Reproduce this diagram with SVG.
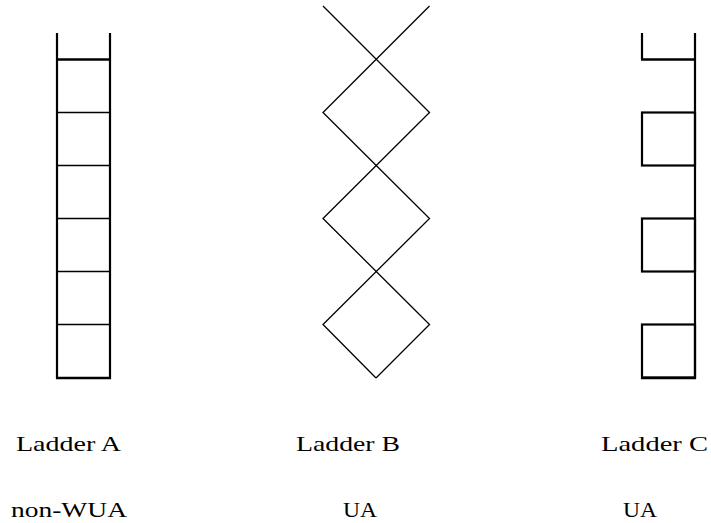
<svg xmlns="http://www.w3.org/2000/svg" width="711" height="523" viewBox="0 0 711 523">
<style>
.rail{stroke:#000;stroke-width:2.2;fill:none}
.rung{stroke:#000;stroke-width:1.6;fill:none}
.thick{stroke:#000;stroke-width:2.6;fill:none}
.zig{stroke:#000;stroke-width:1.3;fill:none;stroke-linejoin:miter}
</style>
<rect width="711" height="523" fill="#fff"/>
<g id="ladderA">
<line class="rail" x1="57" y1="33" x2="57" y2="379"/>
<line class="rail" x1="110" y1="33" x2="110" y2="379"/>
<line class="thick" x1="57" y1="59.5" x2="110" y2="59.5"/>
<line class="rung" x1="57" y1="112.5" x2="110" y2="112.5"/>
<line class="rung" x1="57" y1="165.5" x2="110" y2="165.5"/>
<line class="rung" x1="57" y1="218.5" x2="110" y2="218.5"/>
<line class="rung" x1="57" y1="271.5" x2="110" y2="271.5"/>
<line class="rung" x1="57" y1="324.5" x2="110" y2="324.5"/>
<line class="thick" x1="56" y1="378" x2="111" y2="378"/>
</g>
<g id="ladderB">
<polyline class="zig" points="323,6 429.5,112.5 323,218.5 429.5,324.5 376,378"/>
<polyline class="zig" points="429.5,6 323,112.5 429.5,218.5 323,324.5 376,378"/>
</g>
<g id="ladderC">
<line class="rail" x1="695" y1="33" x2="695" y2="379"/>
<line class="rail" x1="642" y1="33" x2="642" y2="59.5"/>
<line class="thick" x1="641" y1="59.5" x2="695" y2="59.5"/>
<rect class="rail" x="642" y="112.5" width="53" height="53"/>
<rect class="rail" x="642" y="218.5" width="53" height="53"/>
<rect class="rail" x="642" y="324.5" width="53" height="53"/>
<line class="thick" x1="641" y1="378" x2="696" y2="378"/>
</g>
<g id="labels" font-family="'Liberation Serif', 'DejaVu Serif', serif" font-size="22" fill="#000">
<text x="16" y="451" textLength="105" lengthAdjust="spacingAndGlyphs">Ladder A</text>
<text x="11" y="517" textLength="116" lengthAdjust="spacingAndGlyphs">non-WUA</text>
<text x="296" y="451" textLength="104" lengthAdjust="spacingAndGlyphs">Ladder B</text>
<text x="343" y="517" textLength="34" lengthAdjust="spacingAndGlyphs">UA</text>
<text x="601" y="451" textLength="107" lengthAdjust="spacingAndGlyphs">Ladder C</text>
<text x="623" y="517" textLength="34" lengthAdjust="spacingAndGlyphs">UA</text>
</g>
</svg>
